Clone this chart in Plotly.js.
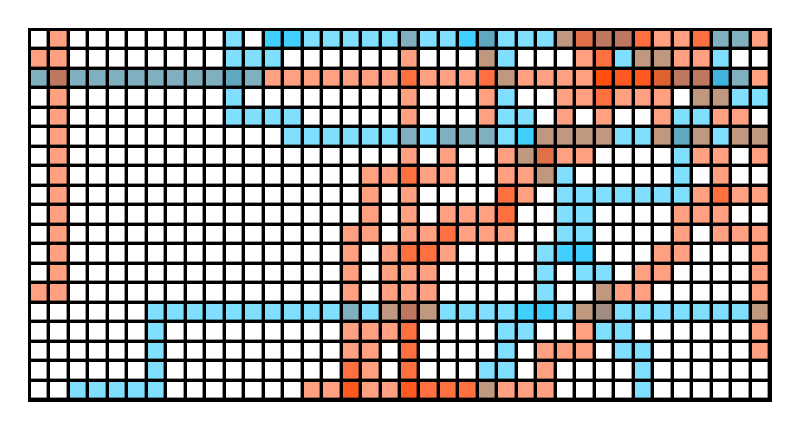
<!DOCTYPE html>
<html>
<head>
<meta charset="utf-8">
<script src="https://cdn.plot.ly/plotly-3.0.1.min.js"></script>
<style>html,body{margin:0;padding:0;background:#fff}#chart{width:800px;height:440px}</style>
</head>
<body>
<div id="chart"></div>
<script>
// Cell states, one letter per column.
const row00 = ".r........b.BBbbbbbtbbBTbbbceddRrrRttr";
const row01 = "rr........bbb......r...cb...rRbccrrb..";
const row02 = "tdttttttttTtrrrrrrrRrrrRcrrrrXYYEddstr";
const row03 = ".r........b........r...rb..rrRrrr.ccbb";
const row04 = ".r........bbbb.....r...rbb.r.r..rbbrr.";
const row05 = ".r...........bbbbbbtbtttbBccccbbcTcbcc";
const row06 = ".r.................r.r..rcerr....brr.r";
const row07 = ".r...............rrRrr..rrcb.....b.r..";
const row08 = ".r...............r.r....Rr.bbbbbbbrRrr";
const row09 = ".r...............r.r.rrrR..bb....rrr..";
const row10 = ".r..............rr.rrRrrr..bb....r.rrr";
const row11 = ".r..............r.rRRr....bBB...rr...r";
const row12 = ".r..............r.rrr.....b.bb.rr....r";
const row13 = "rr..............r.rrr.....b..crr.....r";
const row14 = "......bbbbbbbbbbtbcdcbbbbBBbcgbbbbbbbc";
const row15 = "......b.........rrrR....bb..rbb......r";
const row16 = "......b.........rr.R....b.rrr.bb.....r";
const row17 = "......b.........Rr.R...bb.r....b......";
const row18 = "..bbbbb.......rrYrrYRRRcrrr....b......";
const rows = [row00,row01,row02,row03,row04,row05,row06,row07,row08,row09,
              row10,row11,row12,row13,row14,row15,row16,row17,row18];

const stateKeys   = [".", "b", "B", "r", "R", "Y", "X", "c", "d", "e", "E", "t", "T", "s", "g"];
const stateColors = ["#FFFFFF", "#80DFFF", "#40CFFF", "#FFA080", "#FF7040", "#FF5820", "#FF5010",
                     "#C09880", "#BF7860", "#E07048", "#E06030", "#80B0C0", "#60A8C0", "#40B4DC", "#A08C80"];

const z = rows.map(r => r.split("").map(ch => stateKeys.indexOf(ch)));
const n = stateKeys.length;
const colorscale = [];
stateColors.forEach((c, i) => {
  colorscale.push([i / n, c]);
  colorscale.push([(i + 1) / n, c]);
});

Plotly.newPlot("chart", [{
  type: "heatmap",
  z: z,
  zmin: 0,
  zmax: n,
  colorscale: colorscale,
  showscale: false,
  xgap: 3.4,
  ygap: 3.4,
  hoverinfo: "skip"
}], {
  width: 800,
  height: 440,
  margin: {l: 30, r: 30, t: 30, b: 40, pad: 0},
  paper_bgcolor: "#ffffff",
  plot_bgcolor: "#000000",
  showlegend: false,
  xaxis: {range: [-0.5, 37.5], showgrid: false, zeroline: false, showticklabels: false, ticks: "",
          showline: true, mirror: true, linecolor: "#000000", linewidth: 2},
  yaxis: {range: [18.5, -0.5], showgrid: false, zeroline: false, showticklabels: false, ticks: "",
          showline: true, mirror: true, linecolor: "#000000", linewidth: 2}
}, {staticPlot: true, displayModeBar: false});
</script>
</body>
</html>
